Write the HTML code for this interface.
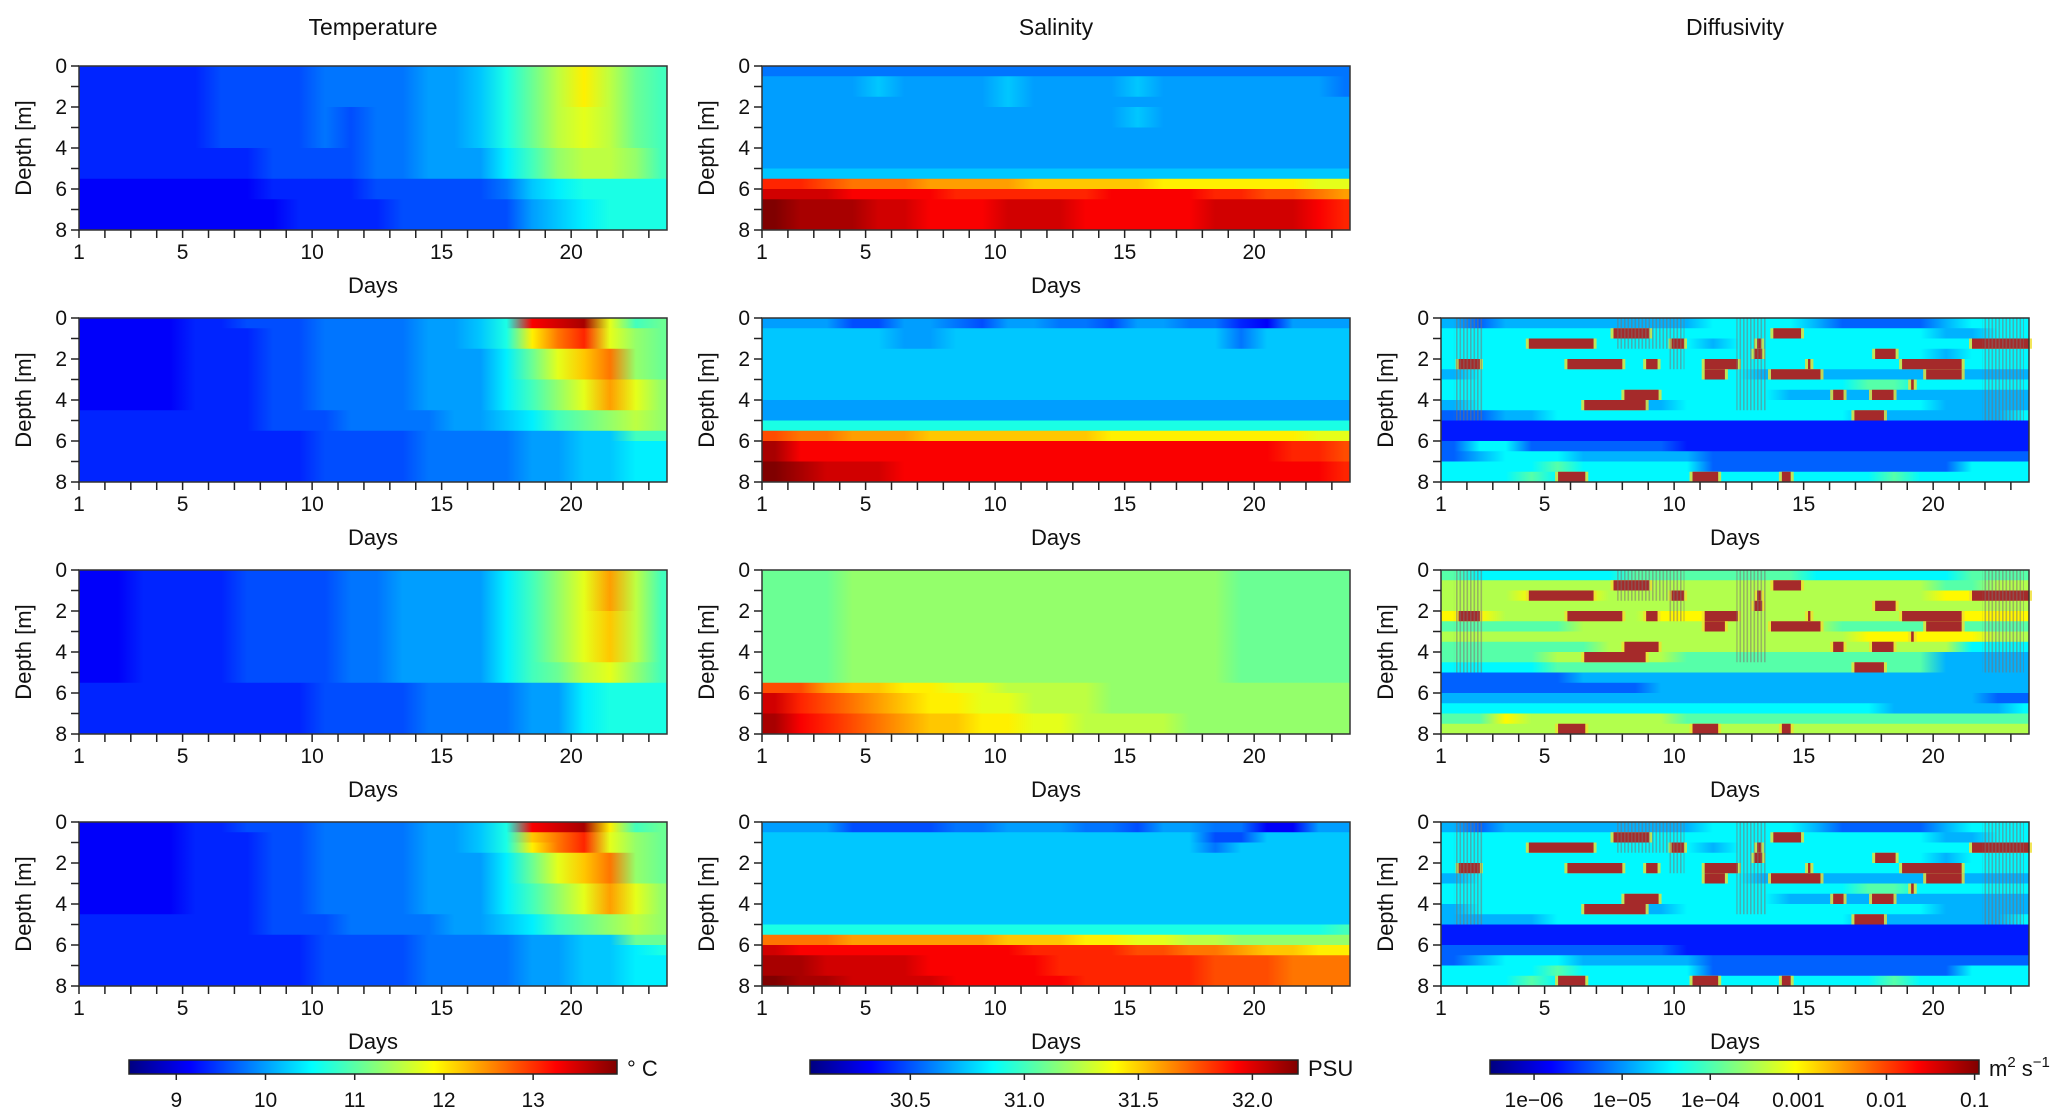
<!DOCTYPE html>
<html><head><meta charset="utf-8"><style>
html,body{margin:0;padding:0;background:#fff}
svg{display:block;font-family:"Liberation Sans",Arial,sans-serif}
</style></head><body>
<svg id="fig" width="2067" height="1118" viewBox="0 0 2067 1118" xmlns="http://www.w3.org/2000/svg"></svg>
<script>
// ---- data (level codes a..z = fraction 0..1 of each panel's colorbar range; 16 depth bands of 0.5 m x 23 days) ----
const days = [1,2,3,4,5,6,7,8,9,10,11,12,13,14,15,16,17,18,19,20,21,22,23];
const xTicks = [1,5,10,15,20];
const yTicks = [0,2,4,6,8];
const tempTicks = [9,10,11,12,13];
const tempRange = [8.47,13.94];
const salTicks = [30.5,31.0,31.5,32.0];
const salTickLabels = ["30.5","31.0","31.5","32.0"];
const salRange = [30.06,32.2];
const diffTicks = [-6,-5,-4,-3,-2,-1];
const diffTickLabels = ["1e\u221206","1e\u221205","1e\u221204","0.001","0.01","0.1"];
const diffRange = [-6.5,-0.95];
const diffLevels = [-6.17,-5.67,-5.28,-4.84,-4.45,-3.95,-3.45,-3.0,-2.17,-1.12];

const T1 = ["eeeeeffffgggghhikmoqoml","eeeeeffffgggghhikmoqoml","eeeeeffffgggghhikmoqoml","eeeeeffffgggghhikmoqoml",
"eeeeeffffgfgghhikmopoml","eeeeeffffgfgghhikmopoml","eeeeeffffgfgghhikmopoml","eeeeeffffgfgghhikmopoml",
"eeeeeeeffffgghhhjlnoonl","eeeeeeeffffgghhhjlnoonl","eeeeeeeffffgghhhjlnoonl",
"dddddddeeeefffffgijkkkk","dddddddeeeefffffgijkkkk","ddddddddeeeefffffhijkkk","ddddddddeeeefffffhijkkk","ddddddddeeeefffffhijkkk"];
const T2 = ["ddddeefffgggghhikwxyplm","ddddeeeffgggghhikqtvpnm","ddddeeeffgggghhikqtvpnm","ddddeeeffgggghhhjmprtnm",
"ddddeeeffgggghhhjmprtnm","ddddeeeffgggghhhjmprtnm","ddddeeeffgggghhhjlnpspn","ddddeeeffgggghhhjlnpspn",
"ddddeeeffgggghhhjlnpspn","eeeeeeefffgggghhijlmnon","eeeeeeefffgggghhijlmnon",
"eeeeeeeeeffffgggghhiill","eeeeeeeeeffffgggghhiijj","eeeeeeeeeffffgggghhiijj","eeeeeeeeeffffgggghhiijj","eeeeeeeeeffffgggghhiijj"];
const T3 = ["ddeeeeffffgghhhhjlnpsol","ddeeeeffffgghhhhjlnpsol","ddeeeeffffgghhhhjlnpsol","ddeeeeffffgghhhhjlnpsol",
"ddeeeeffffgghhhhjlnprol","ddeeeeffffgghhhhjlnprol","ddeeeeffffgghhhhjlnprol","ddeeeeffffgghhhhjlnprol",
"ddeeeeffffgghhhhjlnprol","ddeeeeffffgghhhhjlmopnl","ddeeeeffffgghhhhjlmopnl",
"eeeeeeeeeffffgggghhjkkk","eeeeeeeeeffffgggghhjkkk","eeeeeeeeeffffgggghhjkkk","eeeeeeeeeffffgggghhjkkk","eeeeeeeeeffffgggghhjkkk"];
const T4 = ["ddddeefffgggghhikwxyqlm","ddddeeeffgggghhikrtvpnm","ddddeeeffgggghhikqtvpnm","ddddeeeffgggghhhjmprtnm",
"ddddeeeffgggghhhjmprtnm","ddddeeeffgggghhhjmprtnm","ddddeeeffgggghhhjlnpspn","ddddeeeffgggghhhjlnpspn",
"ddddeeeffgggghhhjlnpspn","eeeeeeefffgggghhijlmnon","eeeeeeefffgggghhijlmnon",
"eeeeeeeeeffffgggghhiimm","eeeeeeeeeffffgggghhiijk","eeeeeeeeeffffgggghhiijj","eeeeeeeeeffffgggghhiijj","eeeeeeeeeffffgggghhiijj"];

const S1 = ["ggggggggggggggggggggggg","hhhhihhhhihhhhihhhhhhhg","hhhhihhhhihhhhihhhhhhhg","hhhhhhhhhihhhhhhhhhhhhh",
"hhhhhhhhhhhhhhihhhhhhhh","hhhhhhhhhhhhhhihhhhhhhh","hhhhhhhhhhhhhhhhhhhhhhh","hhhhhhhhhhhhhhhhhhhhhhh",
"hhhhhhhhhhhhhhhhhhhhhhh","hhhhhhhhhhhhhhhhhhhhhhh","iiiiiiiiiiiiiiiiiiiiiii",
"vvutttssssrrrrrqqqqqqpp","xxxwwwwvvvvvvwwwwvvuuts","zyyyxxwwwxxxwwwwwxxxxwv","zyyyxxwwwxxxwwwwwxxxxwv","zyyyxxwwwxxxwwwwwxxxxwv"];
const S2 = ["hhhffhhgfhhggfhhggedhhh","iiiiihhiiiiiiiiiiigiiii","iiiiihhiiiiiiiiiiigiiii","iiiiiiiiiiiiiiiiiiiiiii",
"iiiiiiiiiiiiiiiiiiiiiii","iiiiiiiiiiiiiiiiiiiiiii","iiiiiiiiiiiiiiiiiiiiiii","iiiiiiiiiiiiiiiiiiiiiii",
"hhhhhhhhhhhhhhhhhhhhhhh","hhhhhhhhhhhhhhhhhhhhhhh","kkkkkkkkkkkkkkkkkkkkkkk",
"uttsssrrrrrrrqqqqqqqqpp","ywwwwwwwwwwwwwwwwwwwvvu","ywwwwwwwwwwwwwwwwwwwvvu","zyxxxwwwwwwwwwwwwwwwwwv","zyxxxwwwwwwwwwwwwwwwwwv"];
const S3 = ["mmmnnnnnnnnnnnnnnnmmmmm","mmmnnnnnnnnnnnnnnnmmmmm","mmmnnnnnnnnnnnnnnnmmmmm","mmmnnnnnnnnnnnnnnnmmmmm",
"mmmnnnnnnnnnnnnnnnmmmmm","mmmnnnnnnnnnnnnnnnmmmmm","mmmnnnnnnnnnnnnnnnmmmmm","mmmnnnnnnnnnnnnnnnmmmmm",
"mmmnnnnnnnnnnnnnnnmmmmm","mmmnnnnnnnnnnnnnnnmmmmm","mmmnnnnnnnnnnnnnnnmmmmm",
"uusrrqqppoooonnnnnnnnnn","xvutsrqqppooonnnnnnnnnn","xvutsrqqppooonnnnnnnnnn","ywvutsrrqqppoooonnnnnnn","ywvutsrrqqppoooonnnnnnn"];
const S4 = ["hhhffffgghhhggfhhggddhh","iiiiiiiiiiiiiiiiiffiiii","iiiiiiiiiiiiiiiiigiiiii","iiiiiiiiiiiiiiiiiiiiiii",
"iiiiiiiiiiiiiiiiiiiiiii","iiiiiiiiiiiiiiiiiiiiiii","iiiiiiiiiiiiiiiiiiiiiii","iiiiiiiiiiiiiiiiiiiiiii",
"iiiiiiiiiiiiiiiiiiiiiii","iiiiiiiiiiiiiiiiiiiiiii","kkkkkkkkkkkkkkkkkkkkkkl",
"tttssssssrrrqqppoonnnnn","xwwwwwwwwwvvvvuuttsrrqq","yyxxxxwwwwwvvvvvvuuuttt","yyxxxxwwwwwvvvvvvuuuttt","zyyxxxxwwwwwvvvvvuuuttt"];

// diffusivity: digit = index into diffLevels (log10 m2/s)
const D2 = ["32333333334444322223444","44444444444444444443344","44444444443444444444444","44444444444444444443444",
"44444444444444444444444","34444444444433333333333","44444444444444445544444","44444444444443333333333",
"34444443344444444443333","22334444444444443333334","11111111111111111111111","11111111111111111111111",
"24422222211111111111111","23444333332222222222222","44445444442222222222444","44454444444444444544444"];
const D3 = ["54444445555555444444555","66666666666666666665566","66677766666666666667777","66666666666666666666666",
"77666666777666666667777","55555666666666655555555","66666666666666667777766","55555566666666666666444",
"55556666655555555553333","44445555555555555553333","22222333333333333333333","22222222333333333333333",
"33333333333333333333322","44444444444444444333334","55766666655555555555555","66666666666666666666666"];
const D4 = ["32333333334444322223444","44444444444444444443344","44444444443444444444444","44444444444444444443444",
"44444444444444444444444","34444444444433333333333","44444444444444445544444","44444444444443333333333",
"34444443344444444443333","33334444444444443333334","11111111111111111111111","11111111111111111111111",
"22222222211111111111111","23444333332222222222222","44445444442222222222444","44454444444444444544444"];
// high-diffusivity patches: [band, startDay, endDay]
const redBand = [1,1,2,2,2,2,3,3,4,4,4,4,4,4,5,5,5,6,7,7,7,8,9,15,15,15];
const redStart = [7.66,13.83,4.39,9.9,13.2,21.5,13.1,17.76,1.68,5.88,8.92,11.18,15.17,18.8,11.18,13.74,19.73,19.15,8.08,16.14,17.64,6.53,16.96,5.52,10.71,14.16];
const redEnd = [9.03,14.9,6.89,10.38,13.35,23.7,13.4,18.55,2.5,8.0,9.36,12.46,15.26,21.1,11.96,15.65,21.1,19.25,9.4,16.54,18.47,8.9,18.1,6.57,11.7,14.5];
// grey hatched zones
const hatchStart = [1.5,7.8,12.4,21.9,9.8];
const hatchEnd = [2.6,9.8,13.6,23.5,10.4];
const hatchBand = [9,2,8,9,4];

// ---- layout ----
const colX = [79,762,1441], plotW = 588;
const rowY = [66,318,570,822], plotH = 164;
const dayMin = 1, dayMax = 23.7, depthMax = 8;
const NS = "http://www.w3.org/2000/svg";
const svg = document.getElementById('fig');

function jet(t){
  t=Math.max(0,Math.min(1,t));
  const r=Math.max(0,Math.min(1,Math.min(4*t-1.5,-4*t+4.5)));
  const g=Math.max(0,Math.min(1,Math.min(4*t-0.5,-4*t+3.5)));
  const b=Math.max(0,Math.min(1,Math.min(4*t+0.5,-4*t+2.5)));
  return `rgb(${Math.round(r*255)},${Math.round(g*255)},${Math.round(b*255)})`;
}
function el(tag,attrs,parent){const e=document.createElementNS(NS,tag);for(const k in attrs)e.setAttribute(k,attrs[k]);(parent||svg).appendChild(e);return e;}
const codeFrac = c => (c.charCodeAt(0)-97)/25;
let gid=0;
const defs = el('defs',{});
const hp = el('pattern',{id:'hatch',width:'3.5',height:'4',patternUnits:'userSpaceOnUse'},defs);
el('rect',{x:'0',y:'0',width:'1.6',height:'4',fill:'rgba(125,110,110,0.5)'},hp);

function axes(ci,ri){
  const X0=colX[ci],Y0=rowY[ri];
  const xs=d=>X0+(d-dayMin)/(dayMax-dayMin)*plotW;
  const ys=z=>Y0+z/depthMax*plotH;
  return {X0,Y0,xs,ys};
}
function frame(ci,ri,name){
  const {X0,Y0,xs,ys}=axes(ci,ri);
  const g=el('g',{});
  
  
  el('rect',{x:X0,y:Y0,width:plotW,height:plotH,fill:'none',stroke:'#333','stroke-width':'1.5'},g);
  days.forEach(d=>el('line',{x1:xs(d),x2:xs(d),y1:Y0+plotH,y2:Y0+plotH+8,stroke:'#222','stroke-width':'1.5'},g));
  for(let z=0;z<=8;z++) el('line',{x1:X0-8,x2:X0,y1:ys(z),y2:ys(z),stroke:'#222','stroke-width':'1.5'},g);
  xTicks.forEach(d=>{const t=el('text',{x:xs(d),y:Y0+plotH+29,'font-size':'21','text-anchor':'middle',fill:'#111'},g);t.textContent=d;});
  yTicks.forEach(z=>{const t=el('text',{x:X0-12,y:ys(z)+7,'font-size':'21','text-anchor':'end',fill:'#111'},g);t.textContent=z;});
  const xl=el('text',{x:X0+plotW/2,y:Y0+plotH+63,'font-size':'22','text-anchor':'middle',fill:'#111'},g);xl.textContent='Days';
  
  
  const yl=el('text',{x:0,y:0,'font-size':'22','text-anchor':'middle',fill:'#111',transform:`translate(${X0-48},${Y0+plotH/2}) rotate(-90)`},g);yl.textContent='Depth [m]';
  
  
}
function smoothPanel(ci,ri,rows,name){
  const {X0,Y0,xs,ys}=axes(ci,ri);
  const g=el('g',{});
  
  
  const bh=depthMax/rows.length;
  rows.forEach((row,i)=>{
    const id='gr'+(gid++);
    const lg=el('linearGradient',{id:id,x1:'0',x2:'1',y1:'0',y2:'0'},defs);
    for(let k=0;k<row.length;k++){
      const dc=Math.min(days[k]+0.5,dayMax);
      el('stop',{offset:((dc-dayMin)/(dayMax-dayMin)).toFixed(4),'stop-color':jet(codeFrac(row[k]))},lg);
    }
    const r=el('rect',{x:X0,y:ys(i*bh),width:plotW,height:ys((i+1)*bh)-ys(i*bh)+0.5,fill:`url(#${id})`},g);
    
    
  });
  frame(ci,ri,name);
}
function diffPanel(ci,ri,rows,name){
  const {X0,Y0,xs,ys}=axes(ci,ri);
  const g=el('g',{});
  
  
  const bh=depthMax/rows.length;
  const tf=v=>(v-diffRange[0])/(diffRange[1]-diffRange[0]);
  rows.forEach((row,i)=>{
    const id='gr'+(gid++);
    const lg=el('linearGradient',{id:id,x1:'0',x2:'1',y1:'0',y2:'0'},defs);
    for(let k=0;k<row.length;k++){
      const dc=Math.min(days[k]+0.5,dayMax);
      el('stop',{offset:((dc-dayMin)/(dayMax-dayMin)).toFixed(4),'stop-color':jet(tf(diffLevels[+row[k]]))},lg);
    }
    const r=el('rect',{x:X0,y:ys(i*bh),width:plotW,height:ys((i+1)*bh)-ys(i*bh)+0.5,fill:`url(#${id})`},g);
    
    
  });
  redBand.forEach((b,j)=>{
    const x1=xs(redStart[j]),x2=xs(redEnd[j]);
    el('rect',{x:x1-3,y:ys(b*bh),width:x2-x1+6,height:ys((b+1)*bh)-ys(b*bh),fill:'#f0e030',opacity:'0.8'},g);
    const r=el('rect',{x:x1,y:ys(b*bh),width:x2-x1,height:ys((b+1)*bh)-ys(b*bh),fill:'#a52a2a'},g);
    
    
  });
  hatchStart.forEach((s,j)=>{
    const r=el('rect',{x:xs(s),y:Y0,width:xs(hatchEnd[j])-xs(s),height:ys((hatchBand[j]+1)*bh)-Y0,fill:'url(#hatch)'},g);
    
    
  });
  frame(ci,ri,name);
}
smoothPanel(0,0,T1,'temperature-1'); smoothPanel(0,1,T2,'temperature-2');
smoothPanel(0,2,T3,'temperature-3'); smoothPanel(0,3,T4,'temperature-4');
smoothPanel(1,0,S1,'salinity-1'); smoothPanel(1,1,S2,'salinity-2');
smoothPanel(1,2,S3,'salinity-3'); smoothPanel(1,3,S4,'salinity-4');
diffPanel(2,1,D2,'diffusivity-2'); diffPanel(2,2,D3,'diffusivity-3'); diffPanel(2,3,D4,'diffusivity-4');

[['Temperature',0],['Salinity',1],['Diffusivity',2]].forEach(([t,c])=>{
  const e=el('text',{x:colX[c]+plotW/2,y:35,'font-size':'23','text-anchor':'middle',fill:'#111'});
  e.textContent=t;
  
  
});
function colorbar(x0,x1,range,ticks,labels,unit,name){
  const g=el('g',{});
  
  
  const y0=1060,h=14;
  const id='cb'+(gid++);
  const lg=el('linearGradient',{id:id,x1:'0',x2:'1',y1:'0',y2:'0'},defs);
  for(let i=0;i<=40;i++) el('stop',{offset:i/40,'stop-color':jet(i/40)},lg);
  el('rect',{x:x0,y:y0,width:x1-x0,height:h,fill:`url(#${id})`,stroke:'#222','stroke-width':'1.5'},g);
  const sx=v=>x0+(v-range[0])/(range[1]-range[0])*(x1-x0);
  ticks.forEach((v,i)=>{
    el('line',{x1:sx(v),x2:sx(v),y1:y0+h,y2:y0+h+6,stroke:'#222','stroke-width':'1.5'},g);
    const t=el('text',{x:sx(v),y:y0+h+33,'font-size':'21','text-anchor':'middle',fill:'#111'},g);
    t.textContent=labels[i];
  });
  const u=el('text',{x:x1+10,y:y0+16,'font-size':'22',fill:'#111'},g);
  u.innerHTML=unit;
}
colorbar(129,617,tempRange,tempTicks,tempTicks.map(String),'° C','temperature-colorbar');
colorbar(810,1298,salRange,salTicks,salTickLabels,'PSU','salinity-colorbar');
colorbar(1490,1979,diffRange,diffTicks,diffTickLabels,'m<tspan dy="-9" font-size="15">2</tspan><tspan dy="9"> s</tspan><tspan dy="-9" font-size="15">−1</tspan>','diffusivity-colorbar');
</script>
</body></html>
